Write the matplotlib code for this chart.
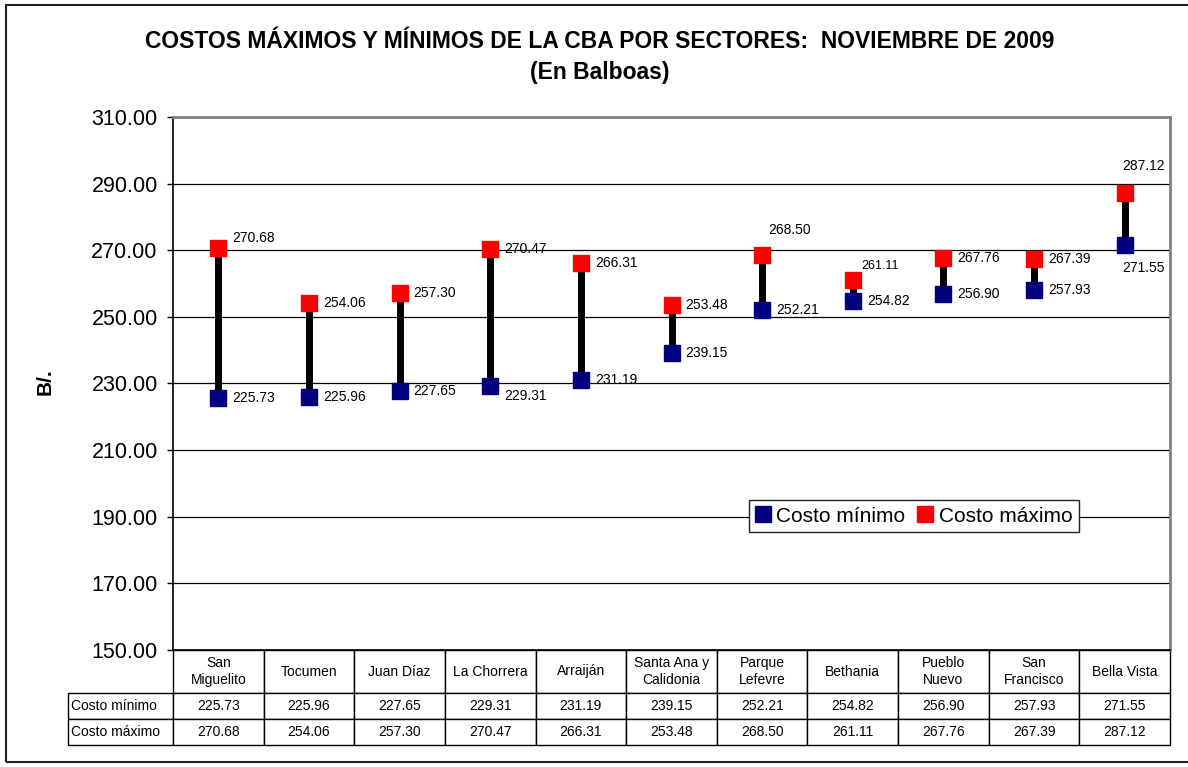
import numpy as np
import matplotlib
matplotlib.use("Agg")
import matplotlib.pyplot as plt
from matplotlib.patches import Rectangle

plt.rcParams['font.family'] = ['Liberation Sans', 'DejaVu Sans']

# data
sectores = ["San\nMiguelito", "Tocumen", "Juan Díaz", "La Chorrera", "Arraiján",
            "Santa Ana y\nCalidonia", "Parque\nLefevre", "Bethania", "Pueblo\nNuevo",
            "San\nFrancisco", "Bella Vista"]
costo_min = [225.73, 225.96, 227.65, 229.31, 231.19, 239.15, 252.21, 254.82, 256.90, 257.93, 271.55]
costo_max = [270.68, 254.06, 257.30, 270.47, 266.31, 253.48, 268.50, 261.11, 267.76, 267.39, 287.12]
y_ticks = [150, 170, 190, 210, 230, 250, 270, 290, 310]

# label offsets in pixels (dx, dy) from each marker
min_offsets = [(14, 0)] * 11
min_offsets[3] = (14, -10)
min_offsets[10] = (-2, -23)
max_offsets = [(14, 0)] * 11
max_offsets[0] = (14, 10)
max_offsets[6] = (6, 25)
max_offsets[7] = (9, 14)
max_offsets[10] = (-2, 27)

W, H = 1188, 767
fig = plt.figure(figsize=(W / 100, H / 100), dpi=100)
ax = fig.add_axes([173 / W, 1 - 650 / H, (1170 - 173) / W, (650 - 117) / H])

x = np.arange(len(sectores))
ax.vlines(x, costo_min, costo_max, color='black', lw=5, zorder=3)
ax.plot(x, costo_min, 's', color='#000080', ms=11, zorder=4, label='Costo mínimo')
ax.plot(x, costo_max, 's', color='#FF0000', ms=11, zorder=4, label='Costo máximo')

for i in range(len(x)):
    fs_max = 9 if i == 7 else 10
    ax.annotate(f"{costo_min[i]:.2f}", (x[i], costo_min[i]), xytext=min_offsets[i],
                textcoords='offset pixels', ha='left', va='center', fontsize=10, zorder=5)
    ax.annotate(f"{costo_max[i]:.2f}", (x[i], costo_max[i]), xytext=max_offsets[i],
                textcoords='offset pixels', ha='left', va='center', fontsize=fs_max, zorder=5)

ax.set_xlim(-0.5, len(x) - 0.5)
ax.set_ylim(150, 310)
ax.set_yticks(y_ticks)
ax.set_yticklabels([f"{v:.2f}" for v in y_ticks], fontsize=15.5)
ax.set_xticks([])
ax.tick_params(axis='y', direction='out', length=4, width=1, pad=7)
for v in y_ticks[1:-1]:
    ax.axhline(v, color='black', lw=0.9, zorder=1)
ax.spines['top'].set_color('#808080')
ax.spines['right'].set_color('#808080')
ax.spines['top'].set_linewidth(2)
ax.spines['right'].set_linewidth(2)
ax.spines['left'].set_color('black')
ax.spines['bottom'].set_color('black')
ax.spines['left'].set_linewidth(1.2)
ax.spines['bottom'].set_linewidth(1.2)

leg = ax.legend(loc='center', bbox_to_anchor=((748 + 1080) / 2 / W, 1 - 516 / H),
                bbox_transform=fig.transFigure, ncol=2, fontsize=15, frameon=True,
                fancybox=False, edgecolor='#222222', framealpha=1, handlelength=0.7,
                handletextpad=0.3, columnspacing=0.6, borderpad=0.3, markerscale=1.1)
leg.get_frame().set_linewidth(1.0)

# data table under the chart
cell_text = [[''] + sectores,
             ['Costo mínimo'] + [f"{v:.2f}" for v in costo_min],
             ['Costo máximo'] + [f"{v:.2f}" for v in costo_max]]
axw = 1170 - 173
axh = 650 - 117
tbl = ax.table(cellText=cell_text, cellLoc='center',
               colWidths=[105 / axw] + [1 / 11] * 11,
               bbox=[(68 - 173) / axw, -95 / axh, (1170 - 68) / axw, 95 / axh])
tbl.auto_set_font_size(False)
tbl.set_fontsize(10)
row_h = [43, 26, 26]
for (r, c), cell in tbl.get_celld().items():
    cell.set_height(row_h[r])
    cell.set_linewidth(1.0)
    if c == 0:
        cell.set_text_props(ha='left')
        cell.PAD = 0.03
    if r == 0 and c == 0:
        cell.visible_edges = ''

fig.text(45 / W, 1 - 382 / H, "B/.", rotation=90, ha='center', va='center',
         fontsize=15, fontweight='bold')
fig.text(600 / W, 1 - 42 / H, "COSTOS MÁXIMOS Y MÍNIMOS DE LA CBA POR SECTORES:  NOVIEMBRE DE 2009",
         ha='center', va='center', fontsize=16.5, fontweight='bold')
fig.text(600 / W, 1 - 72 / H, "(En Balboas)", ha='center', va='center',
         fontsize=16.5, fontweight='bold')

# outer chart frame (right edge runs off the image)
fig.patches.append(Rectangle((6 / W, 5 / H), (W + 10) / W, (762 - 5) / H,
                             transform=fig.transFigure, fill=False, edgecolor='#222222',
                             lw=1.5))

fig.savefig("out.png", dpi=100)
